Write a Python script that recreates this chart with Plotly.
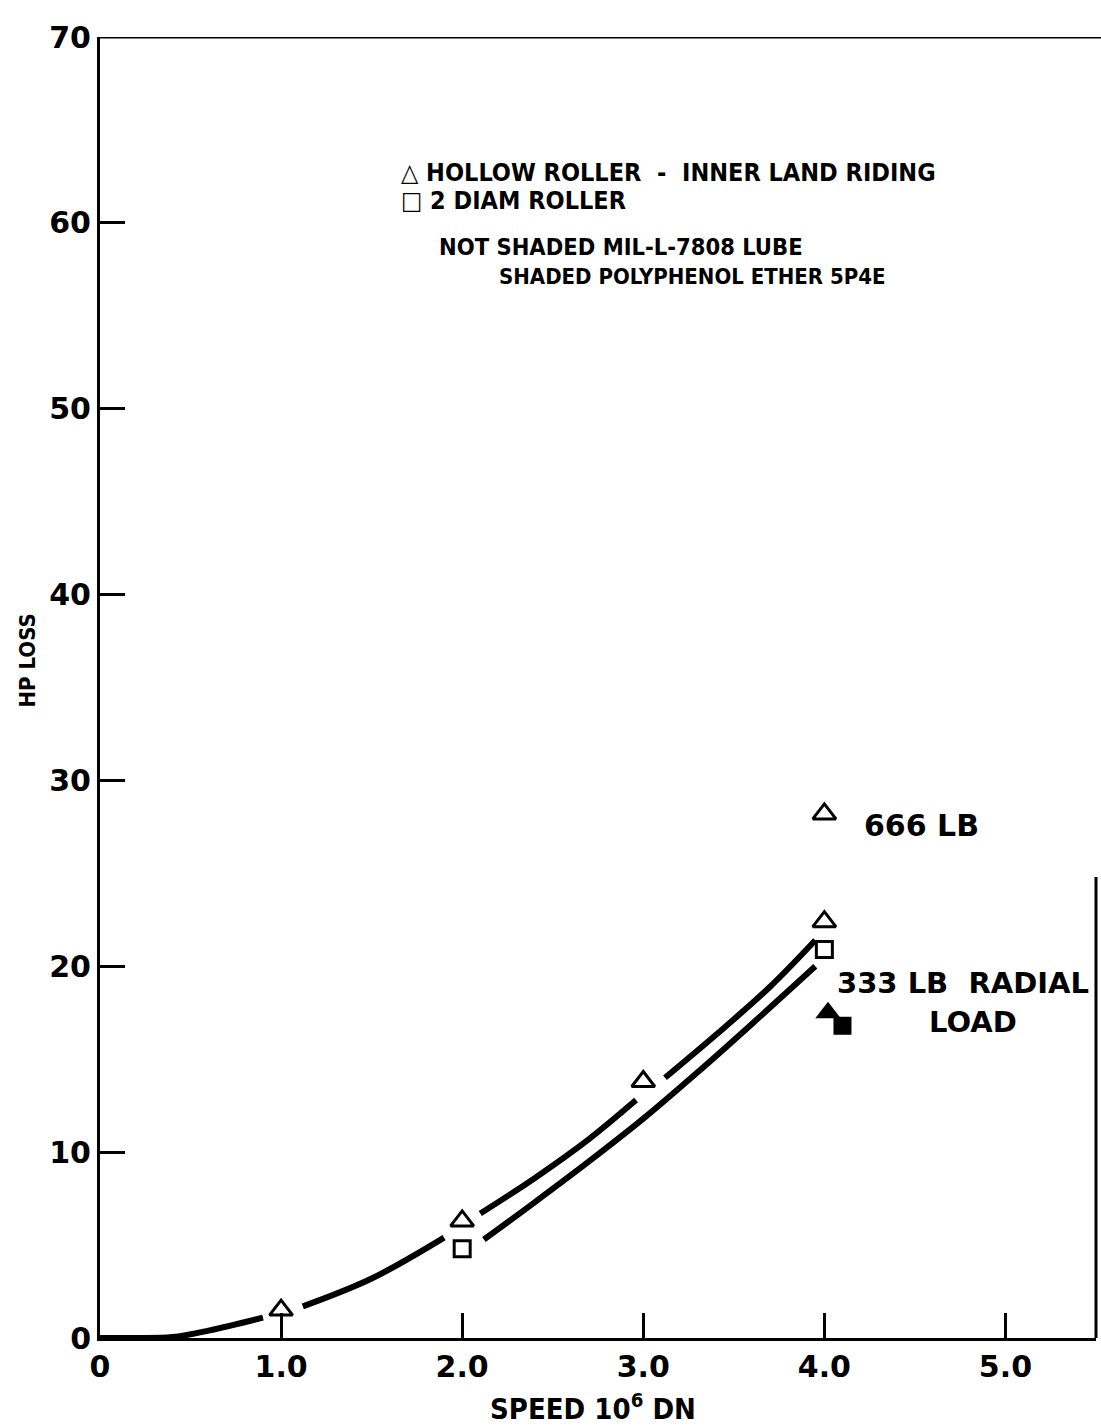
import plotly.graph_objects as go

# Speed in 10^6 DN, horsepower loss
hollow_x = [1.0, 2.0, 3.0, 4.0]
hollow_y = [1.5, 6.3, 13.8, 22.4]
hollow_666_x = [4.0]
hollow_666_y = [28.2]
diam2_x = [2.0, 4.0]
diam2_y = [4.8, 20.9]
shaded_tri_x = [4.02]
shaded_tri_y = [17.5]
shaded_sq_x = [4.1]
shaded_sq_y = [16.8]

# Faired curves (None breaks the line around the plotted symbols)
upper_curve_x = [0, 0.2, 0.4, 0.6, 0.9, None, 1.12, 1.5, 1.9, None,
                 2.1, 2.4, 2.7, 2.96, None, 3.12, 3.4, 3.7, 3.95]
upper_curve_y = [0, 0, 0.05, 0.4, 1.1, None, 1.7, 3.2, 5.4, None,
                 6.7, 8.6, 10.7, 12.8, None, 14.0, 16.3, 18.9, 21.4]
lower_curve_x = [2.12, 2.4, 2.7, 3.0, 3.3, 3.6, 3.95]
lower_curve_y = [5.3, 7.3, 9.5, 11.8, 14.3, 16.9, 20.0]

x_ticks = [0, 1, 2, 3, 4, 5]
x_ticktext = ["0", "1.0", "2.0", "3.0", "4.0", "5.0"]
y_ticks = [0, 10, 20, 30, 40, 50, 60, 70]
y_ticktext = ["0", "10", "20", "30", "40", "50", "60", "70"]

BLACK = "#000000"
TXT = "DejaVu Sans Condensed, DejaVu Sans, sans-serif"
NUM = "DejaVu Sans, sans-serif"

fig = go.Figure()

for cx, cy in [(upper_curve_x, upper_curve_y), (lower_curve_x, lower_curve_y)]:
    fig.add_trace(go.Scatter(
        x=cx, y=cy, mode="lines", connectgaps=False,
        line=dict(color=BLACK, width=6, shape="spline", smoothing=1.0),
        hoverinfo="skip"))

fig.add_trace(go.Scatter(
    x=hollow_x + hollow_666_x, y=hollow_y + hollow_666_y, mode="markers",
    marker=dict(symbol="triangle-up-open", size=20, color=BLACK,
                line=dict(width=3, color=BLACK))))
fig.add_trace(go.Scatter(
    x=diam2_x, y=diam2_y, mode="markers",
    marker=dict(symbol="square-open", size=16, color=BLACK,
                line=dict(width=3, color=BLACK))))
fig.add_trace(go.Scatter(
    x=shaded_tri_x, y=shaded_tri_y, mode="markers",
    marker=dict(symbol="triangle-up", size=22, color=BLACK)))
fig.add_trace(go.Scatter(
    x=shaded_sq_x, y=shaded_sq_y, mode="markers",
    marker=dict(symbol="square", size=18, color=BLACK)))

annotations = [
    dict(x=1.65, y=62.7, text="<b>△ HOLLOW ROLLER  -  INNER LAND RIDING</b>", size=25, family=TXT),
    dict(x=1.65, y=61.2, text="<b>□ 2 DIAM ROLLER</b>", size=25, family=TXT),
    dict(x=1.86, y=58.7, text="<b>NOT SHADED MIL-L-7808 LUBE</b>", size=23.5, family=TXT),
    dict(x=2.19, y=57.1, text="<b>SHADED POLYPHENOL ETHER 5P4E</b>", size=22, family=TXT),
    dict(x=4.21, y=27.6, text="<b>666 LB</b>", size=30, family=NUM),
    dict(x=4.06, y=19.1, text="<b>333 LB  RADIAL</b>", size=29, family=NUM),
]
ann = []
for a in annotations:
    ann.append(dict(x=a["x"], y=a["y"], xref="x", yref="y", text=a["text"],
                    showarrow=False, xanchor="left", yanchor="middle",
                    font=dict(family=a["family"], size=a["size"], color=BLACK)))
ann.append(dict(x=4.82, y=17.0, xref="x", yref="y", text="<b>LOAD</b>", showarrow=False,
                xanchor="center", yanchor="middle",
                font=dict(family=NUM, size=29, color=BLACK)))
ann.append(dict(x=-0.073, y=0.521, xref="paper", yref="paper", text="<b>HP LOSS</b>",
                textangle=-90, showarrow=False, xanchor="center", yanchor="middle",
                font=dict(family=TXT, size=22, color=BLACK)))
ann.append(dict(x=0.495, y=-0.053, xref="paper", yref="paper",
                text="<b>SPEED 10<sup>6</sup> DN</b>", showarrow=False,
                xanchor="center", yanchor="middle",
                font=dict(family=TXT, size=29, color=BLACK)))

shapes = [
    # top border and lower part of the right border
    dict(type="line", xref="paper", yref="y", x0=0, x1=1.01, y0=70, y1=70,
         line=dict(color=BLACK, width=3)),
    dict(type="line", xref="paper", yref="y", x0=1, x1=1, y0=0, y1=24.8,
         line=dict(color=BLACK, width=3)),
]

fig.update_layout(
    width=1101, height=1426,
    margin=dict(l=100, r=5, t=37, b=88),
    paper_bgcolor="white", plot_bgcolor="white",
    showlegend=False,
    annotations=ann, shapes=shapes,
    xaxis=dict(range=[0, 5.5], tickvals=x_ticks, ticktext=x_ticktext,
               ticks="inside", ticklen=25, tickwidth=3, tickcolor=BLACK,
               showline=True, linewidth=3, linecolor=BLACK, mirror=False,
               showgrid=False, zeroline=False,
               tickfont=dict(family=NUM, size=30, color=BLACK, weight="bold")),
    yaxis=dict(range=[0, 70], tickvals=y_ticks, ticktext=y_ticktext,
               ticks="inside", ticklen=25, tickwidth=3, tickcolor=BLACK,
               showline=True, linewidth=3, linecolor=BLACK, mirror=False,
               showgrid=False, zeroline=False,
               tickfont=dict(family=NUM, size=30, color=BLACK, weight="bold")),
)

fig.write_html("out.html")
